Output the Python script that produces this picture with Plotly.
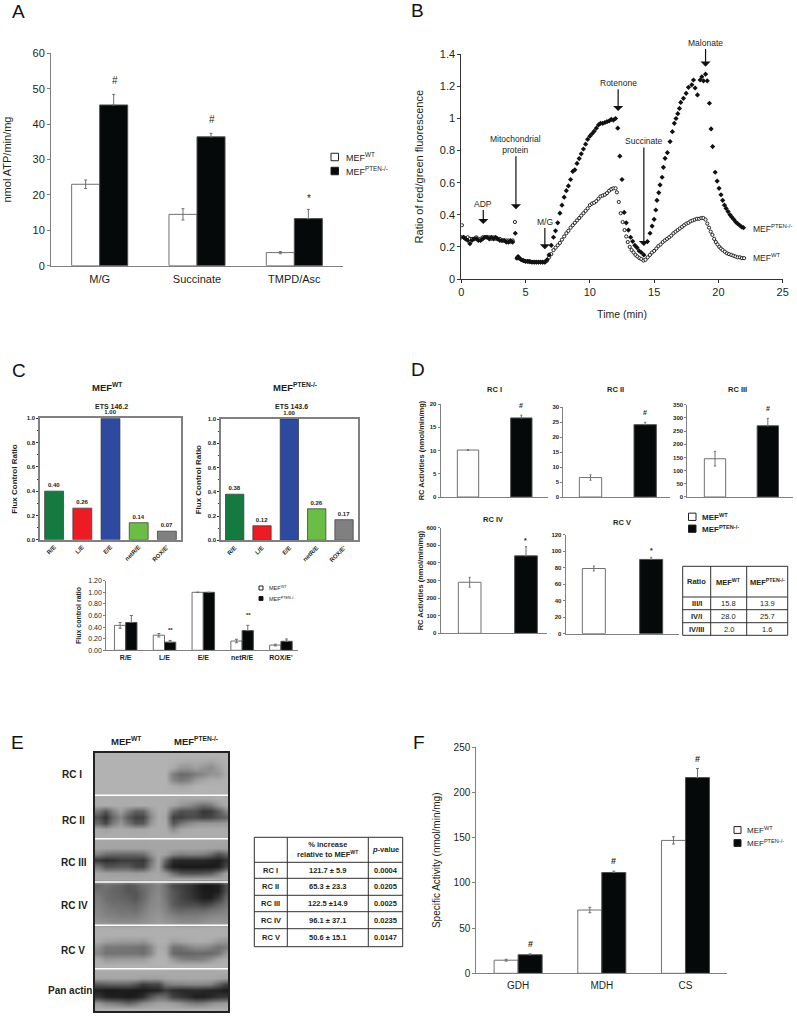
import plotly.graph_objects as go

W, H = 797, 1016
FONT = "Liberation Sans"
INK = "#231f20"
AXIS = "#808080"
WT_LABEL = "MEF<sup>WT</sup>"
KO_LABEL = "MEF<sup>PTEN-/-</sup>"

# ---------- Panel A ----------
A_CATS = ["M/G", "Succinate", "TMPD/Asc"]
A_WT = [23, 14.5, 3.7]
A_WT_ERR = [1.2, 1.6, 0.3]
A_KO = [45.4, 36.4, 13.3]
A_KO_ERR = [3.0, 1.0, 2.6]
A_MARKS = ["#", "#", "*"]

# ---------- Panel B ----------
B_T_KO = [0, .17, .33, .5, .67, .83, 1, 1.17, 1.33, 1.5, 1.67, 1.83, 2, 2.17, 2.33, 2.5, 2.67, 2.83, 3, 3.17, 3.33, 3.5, 3.67, 3.83, 4, 4.2,
          4.33, 4.42, 4.5, 4.67, 4.83, 5, 5.17, 5.33, 5.5, 5.67, 5.83, 6, 6.17, 6.33, 6.5, 6.67, 6.83, 7, 7.17, 7.33, 7.5, 7.67, 7.83, 8, 8.17, 8.33, 8.5, 8.67, 8.83, 9, 9.17, 9.33, 9.5, 9.67, 9.83, 10, 10.17, 10.33, 10.5, 10.67, 10.83, 11, 11.17, 11.33, 11.5, 11.67, 11.83, 12, 12.17, 12.33, 12.5, 12.67, 12.83, 13, 13.17, 13.33, 13.5, 13.67, 13.83, 14, 14.2,
          14.48, 14.68, 14.84, 15, 15.13, 15.22, 15.36, 15.46, 15.62, 15.72, 15.85, 16.03, 16.24, 16.42, 16.57, 16.7, 16.84, 16.97, 17.07, 17.28, 17.49, 17.67, 17.93, 18.06, 18.19, 18.37, 18.58, 18.71, 18.84, 19, 19.13, 19.3, 19.43, 19.55, 19.75, 19.9, 20.05, 20.2, 20.33, 20.47, 20.6, 20.75, 20.9, 21.05, 21.2, 21.35, 21.5, 21.65, 21.8, 21.95]
B_V_KO = [.26, .26, .25, .24, .22, .24, .25, .25, .24, .24, .25, .26, .26, .25, .26, .25, .26, .25, .24, .24, .24, .23, .23, .24, .23, .285,
          .13, .14, .13, .12, .115, .11, .11, .11, .105, .105, .105, .105, .105, .105, .105, .12, .15, .21, .26, .30, .35, .41, .46, .51, .55, .58, .62, .67, .68, .72, .75, .78, .81, .84, .87, .89, .905, .92, .94, .96, .97, .97, .975, .98, .985, .995, .99, 1.0, .94, .765, .62, .415, .35, .305, .26, .235, .21, .195, .175, .165, .15,
          .233, .285, .33, .372, .43, .49, .538, .586, .634, .696, .752, .787, .856, .918, .97, 1.0, 1.03, 1.063, 1.10, 1.126, 1.157, 1.194, 1.21, 1.24, 1.19, 1.147, 1.24, 1.26, 1.235, 1.276, 1.235, 1.095, .935, .825, .665, .61, .565, .525, .49, .46, .44, .42, .40, .385, .37, .355, .345, .335, .325, .32]
B_T_WT = [.05, .17, .33, .5, .67, .83, 1, 1.17, 1.33, 1.5, 1.67, 1.83, 2, 2.17, 2.33, 2.5, 2.67, 2.83, 3, 3.17, 3.33, 3.5, 3.67, 3.83, 4, 4.17,
          4.33, 4.5, 4.67, 4.83, 5, 5.17, 5.33, 5.5, 5.67, 5.83, 6, 6.17, 6.33, 6.5, 6.67, 6.83, 7, 7.17, 7.33, 7.5, 7.67, 7.83, 8, 8.17, 8.33, 8.5, 8.67, 8.83, 9, 9.17, 9.33, 9.5, 9.67, 9.83, 10, 10.17, 10.33, 10.5, 10.67, 10.83, 11, 11.17, 11.33, 11.5, 11.67, 11.83, 12, 12.1, 12.25, 12.4, 12.55, 12.7, 12.83, 12.95, 13.1, 13.25, 13.4, 13.55, 13.7, 13.85, 14, 14.17, 14.33, 14.5, 14.67, 14.83, 15, 15.17, 15.33, 15.5, 15.67, 15.83, 16, 16.17, 16.33, 16.5, 16.67, 16.83, 17, 17.17, 17.33, 17.5, 17.67, 17.83, 18, 18.17, 18.33, 18.5, 18.67, 18.83, 19, 19.13, 19.27, 19.4, 19.53, 19.67, 19.8, 19.93, 20.07, 20.2, 20.33, 20.5, 20.67, 20.83, 21, 21.17, 21.33, 21.5, 21.67, 21.83, 22]
B_V_WT = [.335, .26, .25, .26, .25, .25, .25, .26, .25, .25, .26, .26, .26, .26, .25, .26, .25, .25, .25, .24, .24, .24, .24, .23, .24, .355,
          .13, .13, .12, .115, .11, .11, .105, .105, .105, .105, .105, .105, .105, .105, .115, .135, .155, .18, .195, .21, .225, .245, .265, .285, .30, .32, .335, .35, .365, .38, .395, .41, .425, .44, .46, .47, .475, .485, .50, .515, .52, .525, .535, .55, .56, .565, .565, .54, .48, .41, .355, .305, .265, .23, .20, .18, .165, .15, .14, .13, .125, .115, .12, .135, .15, .165, .175, .19, .205, .215, .23, .24, .25, .26, .27, .285, .295, .305, .315, .325, .335, .345, .35, .36, .365, .37, .375, .375, .38, .38, .37, .345, .32, .295, .275, .25, .23, .215, .20, .19, .18, .17, .16, .155, .15, .145, .14, .135, .135, .13, .13]
# label, text y (data), arrow x, arrow tip y
B_EVENTS = [("ADP", .47, 1.71, .343),
            ("Mitochondrial<br>protein", .84, 4.25, .434),
            ("M/G", .358, 6.5, .185),
            ("Rotenone", 1.223, 12.2, 1.047),
            ("Succinate", .86, 14.2, .206),
            ("Malonate", 1.473, 19.0, 1.323)]

# ---------- Panel C ----------
C_CATS = ["R/E", "L/E", "E/E", "netR/E", "ROX/E'"]
C_COLORS = ["#157a3f", "#ed1c24", "#2e4aa0", "#6abd45", "#808080"]
C_WT = [0.40, 0.26, 1.00, 0.14, 0.07]
C_KO = [0.38, 0.12, 1.00, 0.26, 0.17]
C2_CATS = ["R/E", "L/E", "E/E", "netR/E", "ROX/E'"]
C2_WT = [0.43, 0.26, 1.00, 0.16, 0.09]
C2_WT_ERR = [0.05, 0.03, 0, 0.03, 0.015]
C2_KO = [0.48, 0.14, 1.00, 0.34, 0.155]
C2_KO_ERR = [0.12, 0.03, 0, 0.09, 0.04]
C2_MARKS = ["", "**", "", "**", ""]

# ---------- Panel D ----------
D_NAMES = ["RC I", "RC II", "RC III", "RC IV", "RC V"]
D_WT = [10.1, 6.5, 145, 290, 79]
D_WT_ERR = [0.1, 0.9, 28, 28, 3]
D_KO = [17, 24.2, 270, 440, 90]
D_KO_ERR = [0.6, 0.8, 28, 52, 2.5]
D_MARKS = ["#", "#", "#", "*", "*"]
D_TICKS = [[0, 5, 10, 15, 20],
           [0, 5, 10, 15, 20, 25, 30],
           [0, 50, 100, 150, 200, 250, 300, 350],
           [0, 100, 200, 300, 400, 500, 600],
           [0, 20, 40, 60, 80, 100, 120]]
D_HEAD = ["<b>Ratio</b>", f"<b>{WT_LABEL}</b>", f"<b>{KO_LABEL}</b>"]
D_TABLE = [["III/I", "15.8", "13.9"], ["IV/I", "28.0", "25.7"], ["IV/III", "2.0", "1.6"]]

# ---------- Panel E ----------
E_ROWS = ["RC I", "RC II", "RC III", "RC IV", "RC V", "Pan actin"]
E_HEAD = ["", "% increase<br>relative to MEF<sup>WT</sup>", "<i>p</i>-value"]
E_TABLE = [["RC I", "121.7 ± 5.9", "0.0004"], ["RC II", "65.3 ± 23.3", "0.0205"],
           ["RC III", "122.5 ±14.9", "0.0025"], ["RC IV", "96.1 ± 37.1", "0.0235"],
           ["RC V", "50.6 ± 15.1", "0.0147"]]
BLOT = [
 # RC I
 [178]*18,
 [178, 178, 178, 178, 178, 178, 178, 178, 178, 178, 176, 172, 170, 172, 170, 165, 172, 178],
 [178, 178, 178, 178, 178, 178, 178, 178, 178, 178, 170, 150, 150, 160, 150, 140, 160, 176],
 [178, 178, 178, 178, 178, 178, 178, 178, 178, 178, 125, 105, 110, 125, 135, 150, 150, 172],
 [178, 178, 178, 178, 178, 178, 178, 178, 178, 178, 135, 120, 130, 155, 165, 172, 172, 178],
 [178, 178, 178, 178, 178, 178, 178, 178, 178, 178, 172, 165, 170, 178, 178, 178, 178, 178],
 [178]*18,
 # RC II
 [172, 172, 172, 172, 172, 172, 172, 172, 172, 172, 172, 168, 168, 168, 168, 168, 172, 172],
 [172, 172, 172, 172, 172, 172, 172, 172, 172, 172, 165, 150, 140, 125, 110, 120, 150, 170],
 [120, 85, 130, 160, 125, 95, 100, 150, 172, 172, 105, 80, 85, 80, 55, 60, 90, 130],
 [85, 50, 105, 135, 90, 65, 70, 135, 172, 165, 65, 65, 75, 75, 65, 70, 85, 100],
 [105, 70, 125, 150, 115, 85, 90, 150, 172, 170, 85, 115, 135, 145, 150, 150, 150, 155],
 [168, 160, 168, 170, 168, 165, 165, 172, 172, 172, 140, 165, 170, 172, 172, 172, 172, 172],
 [172]*18,
 # RC III
 [165]*18,
 [165, 162, 162, 162, 162, 162, 162, 165, 165, 165, 165, 165, 165, 165, 165, 162, 160, 162],
 [130, 110, 105, 105, 105, 105, 110, 145, 165, 160, 135, 125, 130, 130, 125, 110, 80, 100],
 [55, 45, 50, 60, 60, 60, 55, 110, 165, 100, 45, 40, 40, 40, 40, 35, 30, 50],
 [120, 85, 85, 90, 90, 70, 70, 130, 165, 70, 30, 25, 25, 25, 25, 25, 30, 70],
 [165, 160, 158, 158, 158, 155, 158, 165, 165, 150, 110, 85, 80, 80, 85, 90, 120, 160],
 [168]*18,
 # RC IV
 [105, 115, 105, 100, 85, 95, 110, 120, 135, 110, 75, 65, 55, 40, 25, 25, 30, 75],
 [115, 110, 100, 95, 85, 85, 105, 125, 135, 115, 85, 70, 55, 40, 28, 25, 30, 80],
 [125, 110, 105, 100, 95, 85, 105, 130, 140, 115, 90, 70, 60, 45, 30, 30, 55, 100],
 [130, 120, 110, 110, 105, 100, 115, 135, 140, 125, 90, 80, 75, 75, 65, 75, 95, 115],
 [135, 125, 120, 115, 115, 110, 125, 140, 145, 130, 110, 100, 105, 105, 105, 115, 120, 130],
 [140, 130, 130, 125, 125, 125, 135, 145, 150, 140, 130, 125, 125, 125, 130, 135, 140, 140],
 [150, 145, 140, 140, 140, 140, 145, 150, 155, 150, 145, 140, 140, 140, 145, 150, 150, 150],
 # RC V
 [175]*18,
 [175, 175, 175, 175, 175, 175, 175, 175, 175, 175, 175, 175, 175, 175, 175, 175, 175, 172],
 [170, 160, 158, 155, 155, 155, 150, 165, 175, 175, 160, 165, 170, 172, 172, 168, 155, 150],
 [145, 120, 120, 118, 118, 115, 110, 135, 172, 165, 115, 115, 130, 140, 140, 130, 115, 125],
 [135, 115, 115, 115, 115, 115, 110, 135, 175, 170, 105, 100, 100, 105, 105, 105, 115, 150],
 [170, 150, 152, 155, 155, 155, 155, 170, 178, 178, 150, 130, 125, 125, 130, 145, 165, 172],
 [178]*18,
 # Pan actin
 [170]*18,
 [165, 165, 165, 165, 165, 165, 160, 160, 160, 165, 168, 168, 168, 168, 168, 168, 165, 160],
 [90, 95, 100, 100, 100, 85, 60, 70, 70, 120, 130, 130, 135, 135, 135, 130, 100, 70],
 [30, 25, 25, 28, 28, 25, 25, 30, 35, 60, 45, 40, 40, 45, 40, 35, 35, 25],
 [55, 35, 30, 30, 25, 30, 45, 85, 110, 105, 65, 55, 45, 30, 30, 40, 50, 55],
 [150, 130, 125, 115, 100, 115, 140, 150, 160, 160, 155, 145, 130, 120, 125, 140, 150, 155],
 [175]*18,
]

# ---------- Panel F ----------
F_CATS = ["GDH", "MDH", "CS"]
F_WT = [14.5, 70, 147]
F_WT_ERR = [1, 3, 4]
F_KO = [20.5, 111.5, 216.5]
F_KO_ERR = [1, 1.5, 10]

fig = go.Figure()
annos, shapes, layout_axes = [], [], {}


def xp(x):
    return x / W


def yp(y):
    return 1 - y / H


def text(x, y, s, size=9, bold=False, anchor="center", color=INK):
    if not s:
        return
    annos.append(dict(xref="paper", yref="paper", x=xp(x), y=yp(y), text=f"<b>{s}</b>" if bold else s,
                      showarrow=False, xanchor=anchor, yanchor="middle",
                      font=dict(family=FONT, size=size, color=color), align="center"))


def axes(n, x0, x1, y0, y1, xkw=None, ykw=None):
    xk = dict(domain=[xp(x0), xp(x1)], anchor=f"y{n}", showgrid=False, zeroline=False, showline=True,
              linecolor=AXIS, linewidth=1, ticks="", fixedrange=True,
              tickfont=dict(family=FONT, size=10, color=INK))
    yk = dict(domain=[yp(y1), yp(y0)], anchor=f"x{n}", showgrid=False, zeroline=False, showline=True,
              linecolor=AXIS, linewidth=1, ticks="outside", ticklen=3, tickcolor=AXIS, fixedrange=True,
              tickfont=dict(family=FONT, size=10, color=INK))
    xk.update(xkw or {})
    yk.update(ykw or {})
    layout_axes[f"xaxis{n}"] = xk
    layout_axes[f"yaxis{n}"] = yk


def grouped(n, cats, wt, wt_err, ko, ko_err, w, errw=1.5):
    common = dict(xaxis=f"x{n}", yaxis=f"y{n}", width=w, hoverinfo="skip", showlegend=False, x=cats)
    err = dict(type="data", color="#707070", thickness=1, width=errw)
    fig.add_trace(go.Bar(y=wt, offset=-w, marker=dict(color="white", line=dict(color="#707070", width=1)),
                         error_y=dict(array=wt_err, **err), name="MEF WT", **common))
    fig.add_trace(go.Bar(y=ko, offset=0, marker=dict(color="#050909", line=dict(color="#505050", width=1)),
                         error_y=dict(array=ko_err, arrayminus=[0] * len(ko), symmetric=False, **err), name="MEF PTEN-/-", **common))


def marks(n, cats, tops, syms, xshift, hash_shift, star_shift, size=10, bold=False):
    for c, t, s in zip(cats, tops, syms):
        if s:
            annos.append(dict(xref=f"x{n}", yref=f"y{n}", x=c, y=t, text=f"<b>{s}</b>" if bold else s, showarrow=False,
                              xshift=xshift, yshift=hash_shift if s == "#" else star_shift, yanchor="bottom",
                              font=dict(family=FONT, size=size, color=INK)))


def legend_keys(x0, x1, y_wt, y_ko, size, tx, tsize, bold=False):
    shapes.append(dict(type="rect", xref="paper", yref="paper", x0=xp(x0), x1=xp(x1), y0=yp(y_wt + size / 2), y1=yp(y_wt - size / 2),
                       fillcolor="white", line=dict(color="#202020", width=1)))
    shapes.append(dict(type="rect", xref="paper", yref="paper", x0=xp(x0), x1=xp(x1), y0=yp(y_ko + size / 2), y1=yp(y_ko - size / 2),
                       fillcolor="#050909", line=dict(color="#202020", width=1)))
    text(tx, y_wt, WT_LABEL, tsize, bold, "left")
    text(tx, y_ko, KO_LABEL, tsize, bold, "left")


def table(xs, ys, rows, size, bold_cols=(), bold_all=False):
    for x in xs:
        shapes.append(dict(type="line", xref="paper", yref="paper", x0=xp(x), x1=xp(x), y0=yp(ys[0]), y1=yp(ys[-1]),
                           line=dict(color="#303030", width=1)))
    for y in ys:
        shapes.append(dict(type="line", xref="paper", yref="paper", x0=xp(xs[0]), x1=xp(xs[-1]), y0=yp(y), y1=yp(y),
                           line=dict(color="#303030", width=1)))
    for r, row in enumerate(rows):
        for c, val in enumerate(row):
            text((xs[c] + xs[c + 1]) / 2, (ys[r] + ys[r + 1]) / 2, val, size, bold_all or c in bold_cols)


# Panel letters
for s, x, y in [("A", 18.5, 12), ("B", 417.5, 11), ("C", 19, 370), ("D", 418, 369), ("E", 17.7, 742.5), ("F", 419, 742.5)]:
    text(x, y, s, 19, False, color="#111111")

# ---------- A ----------
axes(1, 51, 343, 53.3, 265.7,
     dict(range=[-.5, 2.5], type="category", ticklabelstandoff=3, tickfont=dict(family=FONT, size=11, color=INK)),
     dict(range=[0, 60], dtick=10, tickfont=dict(family=FONT, size=11, color=INK),
          title=dict(text="nmol ATP/min/mg", font=dict(family=FONT, size=11, color=INK), standoff=18)))
grouped(1, A_CATS, A_WT, A_WT_ERR, A_KO, A_KO_ERR, 0.288)
marks(1, A_CATS, [k + e for k, e in zip(A_KO, A_KO_ERR)], A_MARKS, 15, 6, 3)
legend_keys(331, 338.5, 157, 171, 7.5, 343.5, 9)

# ---------- B ----------
axes(2, 461.3, 782.7, 54.3, 279,
     dict(range=[0, 25], dtick=5, ticks="outside", ticklen=3, tickcolor="#333333", linecolor="#333333",
          tickfont=dict(family=FONT, size=11, color=INK),
          title=dict(text="Time (min)", font=dict(family=FONT, size=10.5, color=INK), standoff=13)),
     dict(range=[0, 1.4], tickvals=[0, .2, .4, .6, .8, 1, 1.2, 1.4], ticktext=["0", "0.2", "0.4", "0.6", "0.8", "1", "1.2", "1.4"],
          linecolor="#333333", tickcolor="#333333", tickfont=dict(family=FONT, size=11, color=INK),
          title=dict(text="Ratio of red/green fluorescence", font=dict(family=FONT, size=11, color=INK), standoff=13)))
fig.add_trace(go.Scatter(x=B_T_WT, y=B_V_WT, mode="markers", xaxis="x2", yaxis="y2", hoverinfo="skip", showlegend=False, name="MEF WT",
                         marker=dict(symbol="circle", size=3.2, color="white", line=dict(color="#111111", width=0.9))))
fig.add_trace(go.Scatter(x=B_T_KO, y=B_V_KO, mode="markers", xaxis="x2", yaxis="y2", hoverinfo="skip", showlegend=False, name="MEF PTEN-/-",
                         marker=dict(symbol="diamond", size=4, color="#111111")))
for label, ty, ax, tip in B_EVENTS:
    annos.append(dict(xref="x2", yref="y2", axref="x2", ayref="y2", x=ax, y=tip, ax=ax, ay=ty, text=label, showarrow=True,
                      arrowhead=1, arrowsize=1.4, arrowwidth=1.2, arrowcolor="#111111", font=dict(family=FONT, size=8.5, color=INK)))
text(750.5, 228.5, KO_LABEL, 8.5, False, "left")
text(750.5, 257.5, WT_LABEL, 8.5, False, "left")

# ---------- C top ----------
small = dict(family=FONT, size=6, color=INK)
for n, (vals, x0, x1, y0, y1, ttl, tx, ets, ex, stand) in enumerate(
        [(C_WT, 40, 181, 418.3, 539.7, WT_LABEL, 107.3, "ETS 146.2", 111, 8),
         (C_KO, 221, 357.7, 419, 540.3, KO_LABEL, 295.3, "ETS 143.6", 291, 5)], start=3):
    axes(n, x0, x1, y0, y1,
         dict(range=[-.5, 4.5], type="category", mirror=True, linewidth=1.5, tickangle=-45, tickprefix="<b>", ticksuffix="</b>",
              tickfont=dict(family=FONT, size=6, color=INK)),
         dict(range=[0, 1], tickvals=[0, .2, .4, .6, .8, 1], ticktext=["<b>0.0</b>", "<b>0.2</b>", "<b>0.4</b>", "<b>0.6</b>", "<b>0.8</b>", "<b>1.0</b>"],
              mirror=True, linewidth=1.5, ticklen=2, tickcolor="#333333",
              tickfont=dict(family=FONT, size=6, color=INK),
              minor=dict(tickvals=[.1, .3, .5, .7, .9], ticks="outside", ticklen=1.5, tickcolor="#333333"),
              title=dict(text="<b>Flux Control Ratio</b>", font=dict(family=FONT, size=8, color=INK), standoff=stand)))
    fig.add_trace(go.Bar(x=C_CATS, y=vals, xaxis=f"x{n}", yaxis=f"y{n}", width=0.67, hoverinfo="skip", showlegend=False,
                         marker=dict(color=C_COLORS, line=dict(color="#333333", width=0.7)),
                         text=[f"<b>{v:.2f}</b>" for v in vals], textposition="outside", cliponaxis=False,
                         textfont=small, textangle=0, constraintext="none"))
    text(tx, 387.3, ttl, 9.5, True)
    text(ex, 406.7, ets, 7, True)

# ---------- C bottom ----------
axes(5, 106.3, 298, 580.7, 650.3,
     dict(range=[-.5, 4.44], type="category", tickprefix="<b>", ticksuffix="</b>", tickfont=dict(family=FONT, size=7, color=INK)),
     dict(range=[0, 1.2], tickvals=[0, .2, .4, .6, .8, 1, 1.2], ticktext=["0.00", "0.20", "0.40", "0.60", "0.80", "1.00", "1.20"],
          ticklen=2, tickfont=dict(family=FONT, size=7, color=INK),
          title=dict(text="<b>Flux control ratio</b>", font=dict(family=FONT, size=7, color=INK), standoff=5)))
grouped(5, C2_CATS, C2_WT, C2_WT_ERR, C2_KO, C2_KO_ERR, 0.29)
marks(5, C2_CATS, [k + e for k, e in zip(C2_KO, C2_KO_ERR)], C2_MARKS, 6, 1, 5, 6, True)
legend_keys(259, 263, 588, 598.5, 4, 266.5, 5.5)

# ---------- D ----------
ZX = lambda z: 400 + z / 3
ZY = lambda z: 350 + z / 3
D_GEOM = [(122, 445, 162, 441, 204, 160, 64), (490, 810, 172, 441, 571.5, 164, 67), (862, 1180, 164, 441, 945, 158.5, 64),
          (122, 440, 533, 850, 209, 169, 68), (497, 838, 554, 851, 581.5, 172, 69)]
D_TITLE_POS = [(282, 117), (647, 117), (1012, 117), (280, 507), (667, 517)]
D_STANDOFF = {0: 4, 3: 1}
for i, (l, r, t, b, c0, s, bw) in enumerate(D_GEOM):
    n = 6 + i
    ytitle = dict(text="<b>RC Activities (nmol/min/mg)</b>", font=dict(family=FONT, size=7.5, color=INK), standoff=D_STANDOFF[i]) if i in D_STANDOFF else None
    axes(n, ZX(l), ZX(r), ZY(t), ZY(b),
         dict(range=[(l - c0) / s, (r - c0) / s], type="category", showticklabels=False),
         dict(range=[0, D_TICKS[i][-1]], tickvals=D_TICKS[i], ticktext=[f"<b>{v}</b>" for v in D_TICKS[i]], ticklen=2,
              tickfont=dict(family=FONT, size=6, color=INK), title=ytitle))
    w = bw / s
    common = dict(xaxis=f"x{n}", yaxis=f"y{n}", width=w, hoverinfo="skip", showlegend=False)
    err = dict(type="data", color="#707070", thickness=1, width=1)
    fig.add_trace(go.Bar(x=["MEF WT"], y=[D_WT[i]], marker=dict(color="white", line=dict(color="#707070", width=1)),
                         error_y=dict(array=[D_WT_ERR[i]], **err), name="MEF WT", **common))
    fig.add_trace(go.Bar(x=["MEF PTEN-/-"], y=[D_KO[i]], marker=dict(color="#050909", line=dict(color="#505050", width=1)),
                         error_y=dict(array=[D_KO_ERR[i]], arrayminus=[0], symmetric=False, **err), name="MEF PTEN-/-", **common))
    marks(n, ["MEF PTEN-/-"], [D_KO[i] + D_KO_ERR[i]], [D_MARKS[i]], 0, 4, 1, 7, True)
    text(ZX(D_TITLE_POS[i][0]), ZY(D_TITLE_POS[i][1]), D_NAMES[i], 7.5, True)
legend_keys(688.5, 696, 516.8, 528.7, 7.3, 699.7, 8, True)
d_xs = [682.7, 710.7, 746.7, 787.7]
d_ys = [566.3, 597, 609.7, 622.7, 635.3]
table(d_xs, d_ys, [D_HEAD] + D_TABLE, 7.5, bold_cols=(0,))

# ---------- E ----------
fig.add_trace(go.Heatmap(z=BLOT, xaxis="x11", yaxis="y11", zmin=0, zmax=255, zsmooth="best", showscale=False, hoverinfo="skip",
                         colorscale=[[0, "black"], [1, "white"]]))
axes(11, 94, 229, 752, 1012,
     dict(range=[-.5, 17.5], visible=False),
     dict(range=[41.5, -.5], visible=False))
for row in (6.5, 13.5, 20.5, 27.5, 34.5):
    shapes.append(dict(type="line", xref="x11", yref="y11", x0=-.5, x1=17.5, y0=row, y1=row, line=dict(color="white", width=1.5)))
shapes.append(dict(type="rect", xref="paper", yref="paper", x0=xp(94), x1=xp(229), y0=yp(1012), y1=yp(752), line=dict(color="#222222", width=2)))
text(126, 740.7, WT_LABEL, 9.5, True)
text(195.7, 740.7, KO_LABEL, 9.5, True)
for lab, x, y in zip(E_ROWS, [71.7, 73, 74.3, 74.7, 73.3, 70.3], [774, 820, 862.3, 905.3, 950.7, 990]):
    text(x, y, lab, 10, True)
e_xs = [254.3, 287.3, 368.3, 402.7]
e_ys = [837.3, 862.3, 878.3, 895.3, 911.7, 928.7, 946.7]
table(e_xs, e_ys, [E_HEAD] + E_TABLE, 7.5, bold_all=True)

# ---------- F ----------
axes(12, 476.3, 727.3, 747.3, 973.3,
     dict(range=[-.5, 2.5], type="category", ticklabelstandoff=3),
     dict(range=[0, 250], dtick=50, title=dict(text="Specific Activity (nmol/min/mg)", font=dict(family=FONT, size=10, color=INK), standoff=11)))
grouped(12, F_CATS, F_WT, F_WT_ERR, F_KO, F_KO_ERR, 0.287)
marks(12, F_CATS, [k + e for k, e in zip(F_KO, F_KO_ERR)], ["#", "#", "#"], 12, 3, 3, 9, True)
legend_keys(734, 741, 830, 843, 6.8, 744.7, 8)

fig.update_layout(width=W, height=H, margin=dict(l=0, r=0, t=0, b=0, autoexpand=False), paper_bgcolor="white", plot_bgcolor="rgba(0,0,0,0)",
                  barmode="overlay", showlegend=False, annotations=annos, shapes=shapes, font=dict(family=FONT, color=INK), **layout_axes)

fig.write_html("out.html", config=dict(displayModeBar=False, responsive=False),
               post_script="document.body.style.margin='0';document.body.style.overflow='hidden';")
